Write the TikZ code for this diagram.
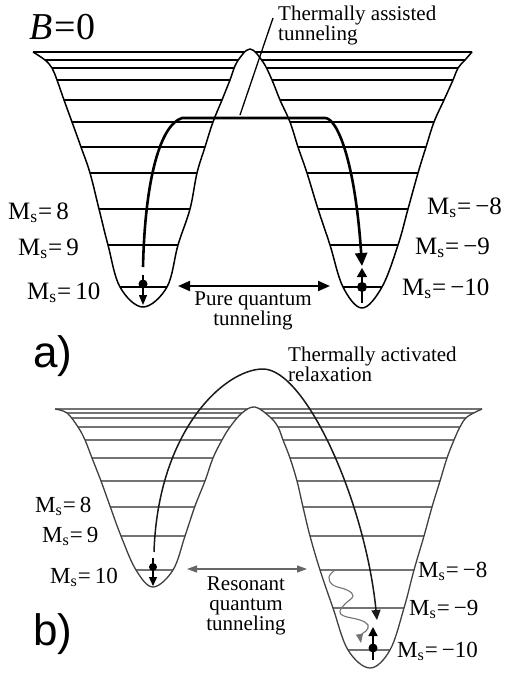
\documentclass[tikz,border=0pt]{standalone}
\usepackage{fontspec}
\setmainfont{Liberation Serif}
\newfontfamily\labsans{Liberation Sans}
\usetikzlibrary{arrows.meta}
\newcommand\Ms[1]{M\textsubscript{s}\kern0.5pt=\kern4pt#1}
\newcommand\curveA{plot[smooth,tension=0.6] coordinates {(33,52) (45,60) (52,68) (57,80) (64,100) (72,122) (81,147) (90,173) (99,209) (108,245) (120,287) (143,307) (167,287) (178,245) (190,209) (197,173) (205,147) (213,122) (222,100) (230,80) (237,62) (250,49) (263,62) (272,80) (280,100) (290,122) (298,147) (307,173) (318,209) (330,245) (343,287) (362,308) (382,287) (398,245) (408,209) (418,173) (426,147) (434,122) (444,100) (453,80) (458,68) (465,60) (472,52)}}
\newcommand\curveB{plot[smooth,tension=0.6] coordinates {(55,409) (67,413) (78,427) (85,440) (92,458) (101,481) (110,506) (121,536) (136,570) (153,587) (173,570) (185,536) (195,506) (205,481) (213,458) (222,440) (230,427) (242,413) (255,407) (270,417) (278,427) (283,440) (290,458) (297,481) (303,507) (310,536) (320,570) (333,608) (348,650) (370,668) (390,650) (404,608) (414,570) (424,536) (432,507) (440,481) (447,458) (454,440) (460,427) (467,417) (482,409)}}
\begin{document}
\begin{tikzpicture}[x=1pt,y=-1pt,
  wallA/.style={line width=1.5pt, black, line join=round},
  lvlA/.style={line width=1.2pt, black},
  wallB/.style={line width=1.3pt, black!75, line join=round},
  lvlB/.style={line width=1.1pt, black!55},
  txt/.style={font=\fontsize{21}{20}\selectfont, inner sep=0pt},
  mslabA/.style={font=\fontsize{25}{25}\selectfont, inner sep=0pt},
  mslabB/.style={font=\fontsize{23}{23}\selectfont, inner sep=0pt},
  panellab/.style={font=\labsans\fontsize{44}{44}\selectfont, inner sep=0pt},
  dotnode/.style={circle, fill=black, inner sep=0pt, minimum size=#1},
  bigtip/.style={-{Triangle[length=13pt,width=12pt]}},
]
\useasboundingbox[fill=white] (0,0) rectangle (512,675);

% ---------------- panel a ----------------
\begin{scope}
  \clip \curveA -- (472,20) -- (33,20) -- cycle;
  \foreach \yy in {52,60,68,80,100,122,147,173,209,245,287}
    \draw[lvlA] (0,\yy) -- (512,\yy);
\end{scope}
\draw[wallA] \curveA;

\node[anchor=base west, inner sep=0pt, font=\fontsize{38}{38}\selectfont] (bzero) at (29,39) {\textit{B}\kern2pt=\kern1pt0};

% thermally assisted tunneling path
\coordinate (taS) at (143,267);
\coordinate (taL) at (182,118);
\coordinate (taR) at (325,118);
\coordinate (taE) at (362,266);
\draw[line width=2.6pt, bigtip] (taS) .. controls (145,180) and (160,125) .. (taL) -- (taR) .. controls (337,118) and (355,160) .. (taE);

\coordinate (ldA) at (240,115);
\coordinate (ldB) at (273,18);
\draw[line width=1.3pt] (ldA) -- (ldB);
\node[txt, anchor=north west, align=left] (tatext) at (278,6) {Thermally assisted\\tunneling};

% pure quantum tunneling
\coordinate (pqL) at (178,286);
\coordinate (pqR) at (330,286);
\draw[line width=2pt, {Triangle[length=12pt,width=10pt]}-{Triangle[length=12pt,width=10pt]}] (pqL) -- (pqR);
\node[txt, anchor=north, align=center] (pqtext) at (253,292) {Pure quantum\\tunneling};

% spins panel a
\coordinate (sa1t) at (143,275);
\coordinate (sa1b) at (143,305);
\draw[line width=1.3pt, -{Triangle[length=10pt,width=8pt]}] (sa1t) -- (sa1b);
\node[dotnode=9pt] (dotA1) at (143,284) {};
\coordinate (sa2b) at (362,303);
\coordinate (sa2t) at (362,268);
\draw[line width=1.5pt, -{Triangle[length=9pt,width=10pt]}] (sa2b) -- (sa2t);
\node[dotnode=10pt] (dotA2) at (362,287) {};

% labels panel a
\node[mslabA, anchor=base west] (la8) at (8,219) {\Ms{8}};
\node[mslabA, anchor=base west] (la9) at (18,255) {\Ms{9}};
\node[mslabA, anchor=base west] (la10) at (27,299) {\Ms{10}};
\node[mslabA, anchor=base west] (lam8) at (427,214) {\Ms{−8}};
\node[mslabA, anchor=base west] (lam9) at (415,254) {\Ms{−9}};
\node[mslabA, anchor=base west] (lam10) at (402,295) {\Ms{−10}};

\node[panellab, anchor=base west] (pa) at (33,367) {a)};

% ---------------- panel b ----------------
\begin{scope}
  \clip \curveB -- (482,390) -- (55,390) -- cycle;
  \foreach \yy in {409,413,418,427,440,458,481,507,536,570,608,650}
    \draw[lvlB] (0,\yy) -- (512,\yy);
\end{scope}
\draw[wallB] \curveB;

\coordinate (trS) at (154,552);
\coordinate (trT) at (263,369);
\coordinate (trE) at (377,620);
\draw[line width=1.5pt, black!90, -{Triangle[length=10pt,width=9pt]}] (trS) .. controls (158,430) and (225,369) .. (trT) .. controls (305,369) and (365,500) .. (trE);
\node[txt, anchor=north west, align=left] (tartext) at (288,347) {Thermally activated\\relaxation};

% resonant quantum tunneling
\coordinate (rqL) at (187,569);
\coordinate (rqR) at (307,569);
\draw[line width=1.2pt, black!60, {Triangle[length=10pt,width=7pt]}-{Triangle[length=10pt,width=7pt]}] (rqL) -- (rqR);
\node[txt, anchor=north, align=center] (rqtext) at (246,577) {Resonant\\quantum\\tunneling};

% wavy relaxation
\draw[line width=1.1pt, black!55, -{Triangle[length=9pt,width=7pt]}] plot[smooth, tension=0.7] coordinates {(335,570) (329,577) (333,585) (347,590) (353,596) (345,604) (340,611) (344,616) (360,620) (368,625) (366,631) (361,635) (361,643)};

% spins panel b
\coordinate (sb1t) at (153,558);
\coordinate (sb1b) at (153,586);
\draw[line width=1.2pt, -{Triangle[length=9pt,width=8pt]}] (sb1t) -- (sb1b);
\node[dotnode=8pt] (dotB1) at (153,567) {};
\coordinate (sb2b) at (373,660);
\coordinate (sb2t) at (373,627);
\draw[line width=1.4pt, -{Triangle[length=9pt,width=9pt]}] (sb2b) -- (sb2t);
\node[dotnode=9pt] (dotB2) at (373,648) {};

% labels panel b
\node[mslabB, anchor=base west] (lb8) at (35,512) {\Ms{8}};
\node[mslabB, anchor=base west] (lb9) at (42,542) {\Ms{9}};
\node[mslabB, anchor=base west] (lb10) at (50,583) {\Ms{10}};
\node[mslabB, anchor=base west] (lbm8) at (418,577) {\Ms{−8}};
\node[mslabB, anchor=base west] (lbm9) at (409,615) {\Ms{−9}};
\node[mslabB, anchor=base west] (lbm10) at (397,657) {\Ms{−10}};

\node[panellab, anchor=base west] (pb) at (33,645) {b)};
\end{tikzpicture}
\end{document}
